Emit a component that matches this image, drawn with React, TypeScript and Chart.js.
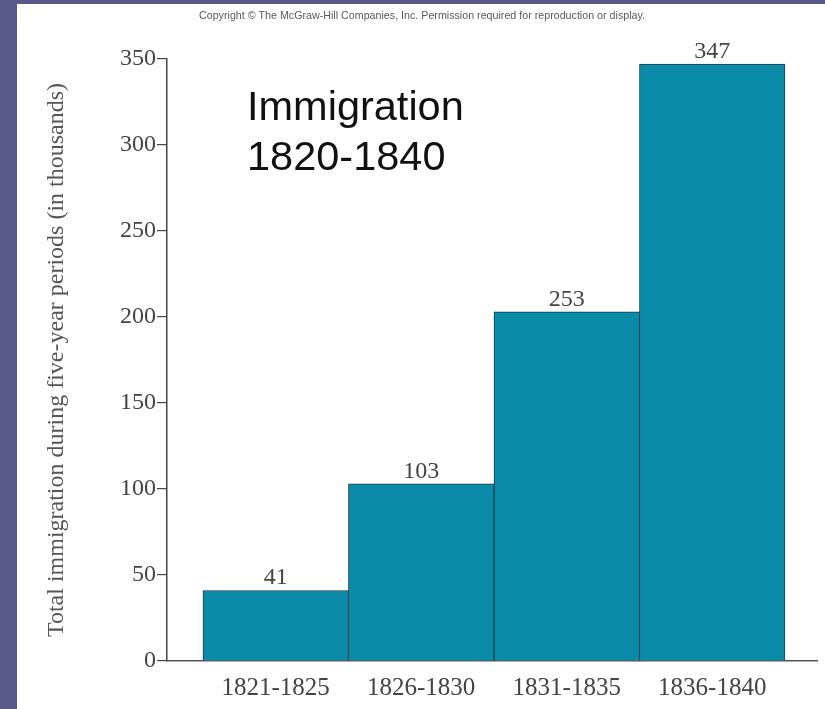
import React, { useEffect, useRef } from 'react';
import { Chart, registerables } from 'chart.js';

Chart.register(...registerables);

const categories = ['1821-1825', '1826-1830', '1831-1835', '1836-1840'];
const barHeights = [41, 103, 203, 347];
const barLabels = ['41', '103', '253', '347'];
const yTicks = [0, 50, 100, 150, 200, 250, 300, 350];
const titleLines = ['Immigration', '1820-1840'];
const yAxisTitle = 'Total immigration during five-year periods (in thousands)';
const copyright =
  'Copyright \u00A9 The McGraw-Hill Companies, Inc. Permission required for reproduction or display.';

const SERIF = "'Liberation Serif', 'Times New Roman', serif";
const SANS = "'Liberation Sans', Arial, sans-serif";

export default function App() {
  const canvasRef = useRef<HTMLCanvasElement | null>(null);

  useEffect(() => {
    const canvas = canvasRef.current;
    if (!canvas) return;

    const valueLabels = {
      id: 'valueLabels',
      afterDatasetsDraw(chart: any) {
        const ctx = chart.ctx;
        const meta = chart.getDatasetMeta(0);
        ctx.save();
        ctx.font = `24px ${SERIF}`;
        ctx.fillStyle = '#444';
        ctx.textAlign = 'center';
        ctx.textBaseline = 'alphabetic';
        meta.data.forEach((el: any, i: number) => {
          ctx.fillText(barLabels[i], el.x, el.y - 6);
        });
        ctx.restore();
      },
    };

    const overlayText = {
      id: 'overlayText',
      afterDraw(chart: any) {
        const ctx = chart.ctx;
        ctx.save();
        ctx.fillStyle = '#5a5a5a';
        ctx.font = `11px ${SANS}`;
        ctx.textAlign = 'center';
        ctx.textBaseline = 'alphabetic';
        ctx.fillText(copyright, 422, 19, 446);
        ctx.fillStyle = '#111';
        ctx.font = `41.5px ${SANS}`;
        ctx.textAlign = 'left';
        titleLines.forEach((line, i) => {
          ctx.fillText(line, 247, 120 + i * 50);
        });
        ctx.restore();
      },
    };

    const chart = new Chart(canvas, {
      type: 'bar',
      data: {
        datasets: [
          {
            data: barHeights.map((v, i) => ({ x: i + 1, y: v })),
            backgroundColor: '#0a8ba7',
            borderColor: '#1f3a55',
            borderWidth: 1,
            barPercentage: 1,
            categoryPercentage: 1,
          },
        ],
      },
      options: {
        responsive: false,
        animation: false,
        devicePixelRatio: 1,
        layout: { padding: { left: 0, top: 59, right: 8, bottom: 0 } },
        plugins: {
          legend: { display: false },
          tooltip: { enabled: false },
          title: { display: false },
        },
        scales: {
          x: {
            type: 'linear',
            offset: false,
            min: 0.253,
            max: 4.72,
            afterBuildTicks: (scale: any) => {
              scale.ticks = categories.map((_, i) => ({ value: i + 1 }));
            },
            afterFit: (scale: any) => {
              scale.height = 48;
            },
            grid: { display: false, offset: false, drawTicks: false, tickLength: 0 },
            border: { display: true, color: '#555', width: 1.5 },
            ticks: {
              autoSkip: false,
              maxRotation: 0,
              padding: 12,
              color: '#444',
              font: { family: SERIF, size: 25 },
              callback: (_v: any, index: number) => categories[index],
            },
          },
          y: {
            type: 'linear',
            min: 0,
            max: 350,
            afterBuildTicks: (scale: any) => {
              scale.ticks = yTicks.map((v) => ({ value: v }));
            },
            afterFit: (scale: any) => {
              scale.width = 167;
            },
            grid: {
              display: true,
              drawOnChartArea: false,
              drawTicks: true,
              tickLength: 10,
              color: '#444',
              lineWidth: 1.2,
            },
            border: { display: true, color: '#444', width: 1.5 },
            ticks: {
              padding: 1,
              color: '#444',
              font: { family: SERIF, size: 24 },
            },
            title: {
              display: true,
              text: yAxisTitle,
              color: '#555',
              font: { family: SERIF, size: 24 },
              padding: { top: 42, bottom: 0 },
            },
          },
        },
      },
      plugins: [valueLabels, overlayText],
    });

    return () => chart.destroy();
  }, []);

  return (
    <div
      style={{
        position: 'fixed',
        left: 0,
        top: 0,
        width: 825,
        height: 709,
        background: '#58588b',
        overflow: 'hidden',
      }}
    >
      <div
        style={{
          position: 'absolute',
          left: 17,
          top: 4,
          right: 0,
          bottom: 0,
          background: '#ffffff',
        }}
      />
      <canvas
        ref={canvasRef}
        width={825}
        height={709}
        style={{ position: 'absolute', left: 0, top: 0, width: 825, height: 709 }}
      />
    </div>
  );
}
